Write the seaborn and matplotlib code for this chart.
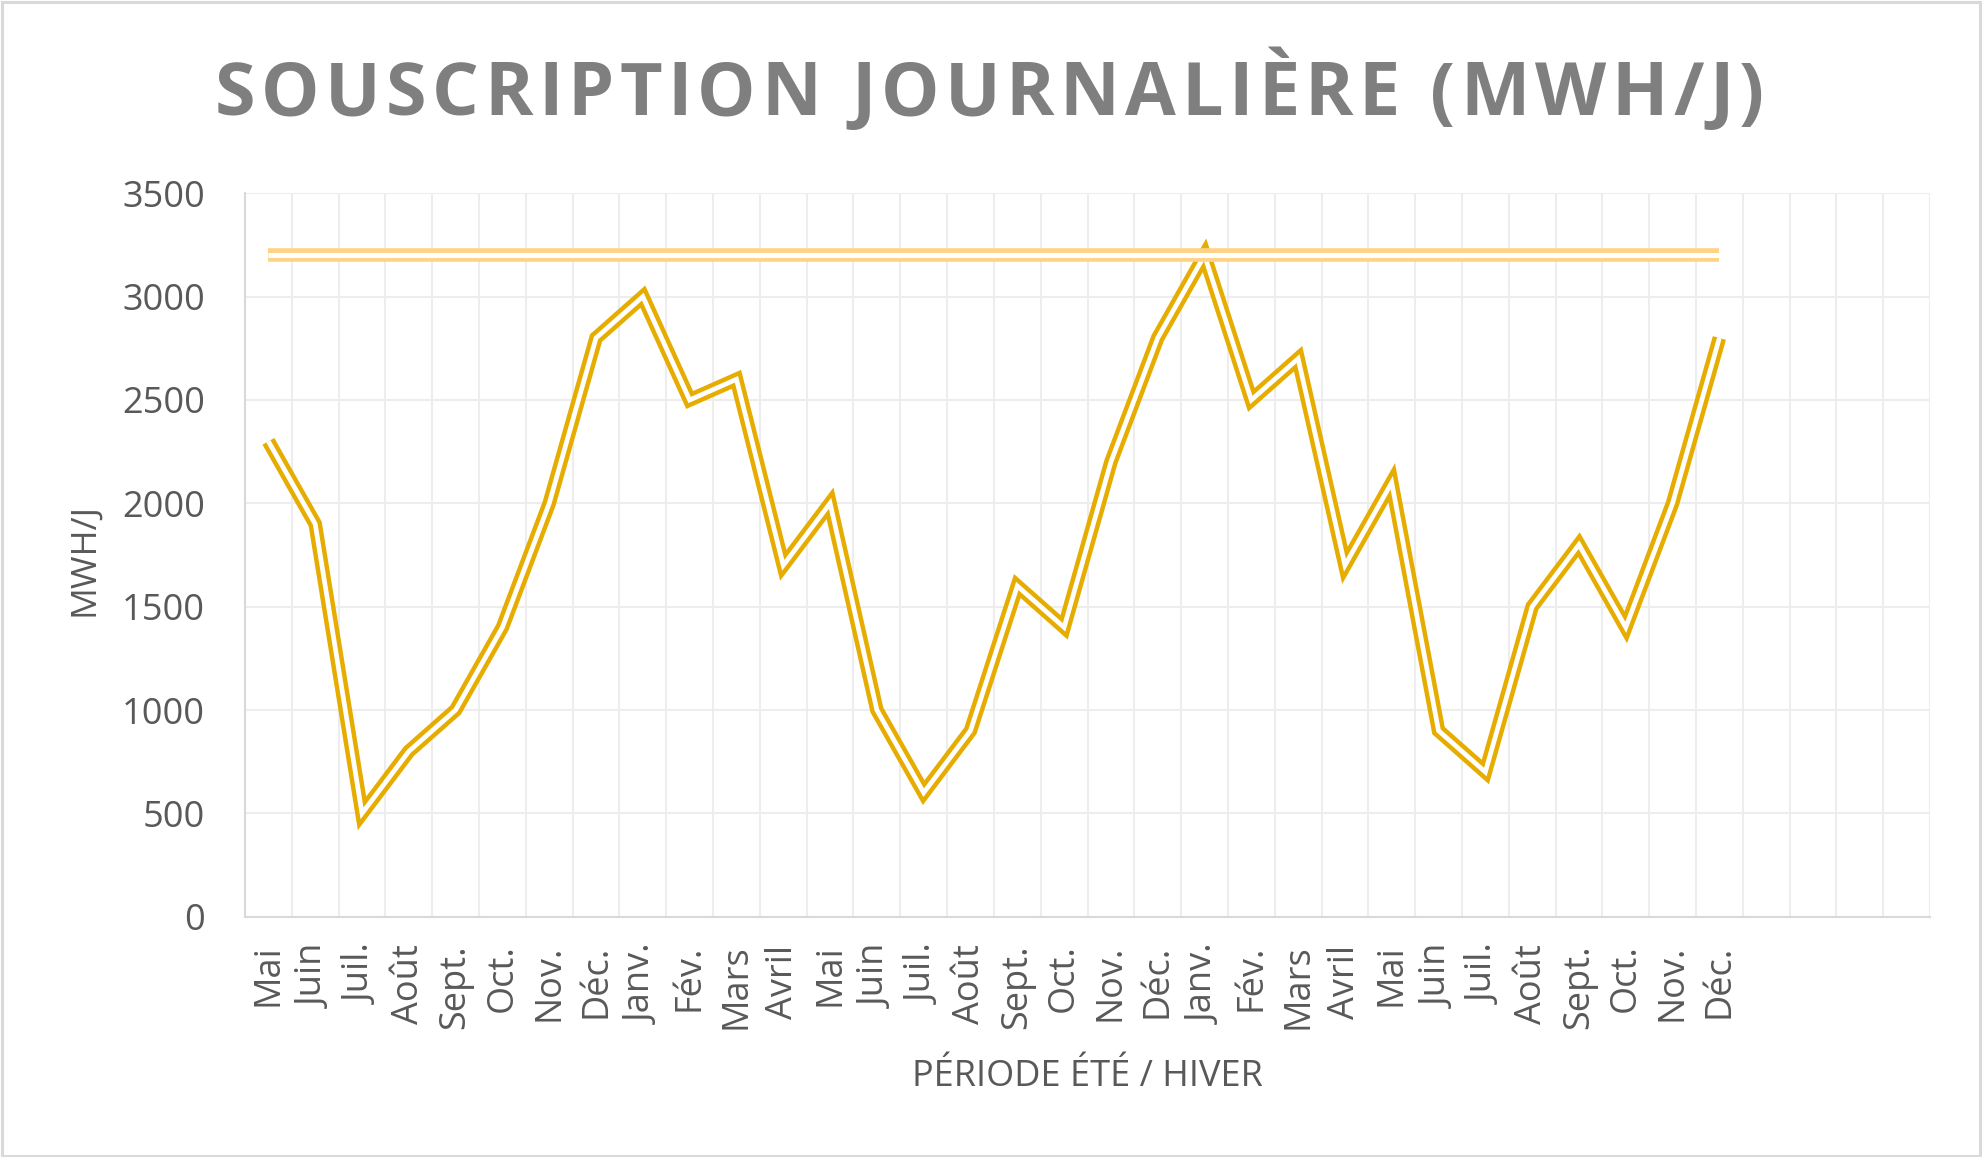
import matplotlib
matplotlib.use("Agg")
import matplotlib.pyplot as plt
import seaborn as sns
import numpy as np
import pandas as pd
from matplotlib.patches import Rectangle
from matplotlib.ticker import MultipleLocator, FixedLocator

# ---- data ----
months = ["Mai", "Juin", "Juil.", "Août", "Sept.", "Oct.", "Nov.", "Déc.",
          "Janv.", "Fév.", "Mars", "Avril", "Mai", "Juin", "Juil.", "Août",
          "Sept.", "Oct.", "Nov.", "Déc.", "Janv.", "Fév.", "Mars", "Avril",
          "Mai", "Juin", "Juil.", "Août", "Sept.", "Oct.", "Nov.", "Déc."]
souscription = [2300, 1900, 500, 800, 1000, 1400, 2000, 2800,
                3000, 2500, 2600, 1700, 2000, 1000, 600, 900,
                1600, 1400, 2200, 2800, 3200, 2500, 2700, 1700,
                2100, 900, 700, 1500, 1800, 1400, 2000, 2800]
capacite = [3200] * len(months)
n_slots = 36  # category slots on the axis (4 empty at the end)

title = "SOUSCRIPTION JOURNALIÈRE (MWH/J)"
xlabel = "PÉRIODE ÉTÉ / HIVER"
ylabel = "MWH/J"

# ---- style ----
sns.set_style("white")
plt.rcParams["font.family"] = ["Open Sans", "DejaVu Sans"]

W, H = 1982, 1157
fig = plt.figure(figsize=(W / 100, H / 100), dpi=100)
ax = fig.add_axes([245 / W, 1 - 916.7 / H, (1930 - 245) / W, (916.7 - 193.3) / H])

df = pd.DataFrame({"idx": np.arange(len(months)), "souscription": souscription,
                   "capacite": capacite})

gold = "#E6AC00"
pale = "#FFD386"
# double (compound) lines: thick colored stroke with thin white core
sns.lineplot(data=df, x="idx", y="souscription", ax=ax, color=gold, lw=9.8,
             solid_joinstyle="miter", solid_capstyle="butt", zorder=3)
sns.lineplot(data=df, x="idx", y="souscription", ax=ax, color="white", lw=3.4,
             solid_joinstyle="miter", solid_capstyle="butt", zorder=4)
sns.lineplot(data=df, x="idx", y="capacite", ax=ax, color=pale, lw=9.8,
             solid_joinstyle="miter", solid_capstyle="butt", zorder=5)
sns.lineplot(data=df, x="idx", y="capacite", ax=ax, color="white", lw=3.6,
             solid_joinstyle="miter", solid_capstyle="butt", zorder=6)

ax.set_xlim(-0.5, n_slots - 0.5)
ax.set_ylim(0, 3500)
ax.yaxis.set_major_locator(MultipleLocator(500))
ax.set_xticks(np.arange(len(months)))
ax.set_xticklabels(months, rotation=90, va="top", ha="center")
ax.xaxis.set_minor_locator(FixedLocator(np.arange(n_slots + 1) - 0.5))

grid_c = "#EDEDED"
ax.grid(False)
ax.yaxis.grid(True, which="major", color=grid_c, lw=1.5)
ax.xaxis.grid(True, which="minor", color=grid_c, lw=1.5)
ax.set_axisbelow(True)

for s in ["top", "right"]:
    ax.spines[s].set_visible(False)
for s in ["left", "bottom"]:
    ax.spines[s].set_color("#D9D9D9")
    ax.spines[s].set_linewidth(1.5)

tick_c = "#595959"
ax.tick_params(axis="y", length=0, pad=29, labelsize=26, labelcolor=tick_c)
ax.tick_params(axis="x", which="both", length=0, pad=20, labelsize=26, labelcolor=tick_c)

ax.set_xlabel(xlabel, fontsize=26, color=tick_c)
ax.set_ylabel(ylabel, fontsize=25.5, color=tick_c)
ax.xaxis.set_label_coords(0.5, (916.7 - 1076.7) / 723.4)
ax.xaxis.label.set_va("center")
ax.yaxis.set_label_coords((84 - 245) / 1685, 0.494)
ax.yaxis.label.set_va("center")

# ---- title with letter spacing ----
renderer = fig.canvas.get_renderer()
tkw = dict(fontsize=53, fontweight="bold", color="#7F7F7F")
widths = []
for ch in title:
    if ch == " ":
        widths.append(None)
        continue
    t = fig.text(0, 0, ch, **tkw)
    widths.append(t.get_window_extent(renderer).width)
    t.remove()
space_w = 0.26 * 53 * 100 / 72
widths = [space_w if w is None else w for w in widths]
x_start, x_end = 215, 1764
track = ((x_end - x_start) - sum(widths)) / (len(title) - 1)
x = x_start
for ch, w in zip(title, widths):
    if ch != " ":
        fig.text(x / W, 1 - 115 / H, ch, ha="left", va="baseline", **tkw)
    x += w + track

# figure border
fig.patches.append(Rectangle((0.0008, 0.001), 0.9984, 0.9975, transform=fig.transFigure,
                             fill=False, edgecolor="#D9D9D9", lw=2.2))

fig.savefig("out.png", dpi=100, facecolor="white")
